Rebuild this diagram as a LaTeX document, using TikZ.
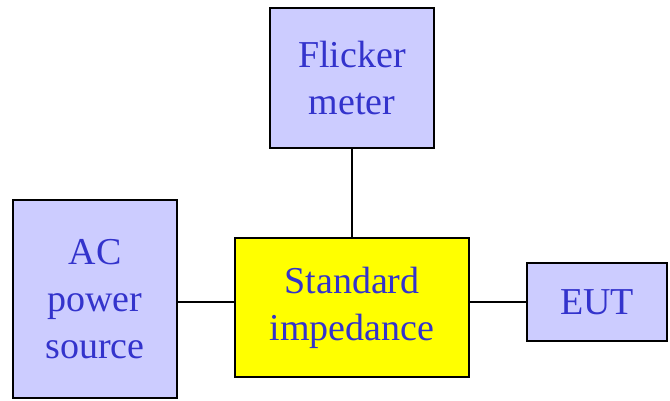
\documentclass[tikz,border=0pt]{standalone}
\usepackage{fontspec}
\setmainfont{Liberation Serif}
\definecolor{boxblue}{HTML}{CCCCFF}
\definecolor{txtblue}{HTML}{3333CC}
\definecolor{boxyellow}{HTML}{FFFF00}
\begin{document}
\begin{tikzpicture}[x=1pt,y=1pt,
  blk/.style={draw=black, line width=1.3pt, inner sep=0pt, align=center,
    text=txtblue, font=\fontsize{38}{47}\selectfont},
  lav/.style={blk, fill=boxblue},
  yel/.style={blk, fill=boxyellow},
  wire/.style={draw=black, line width=1.3pt}]
\useasboundingbox (0,0) rectangle (670,400);
\node[lav, minimum width=164pt, minimum height=140pt] (fm) at (352,322) {Flicker\\meter};
\node[lav, minimum width=164pt, minimum height=198pt] (ac) at (95,101) {AC\\power\\source};
\node[yel, minimum width=234pt, minimum height=139pt] (imp) at (352,92.5) {Standard\\impedance};
\node[lav, minimum width=140pt, minimum height=78pt] (eut) at (597,98) {EUT};
\draw[wire] (fm.south) -- (imp.north);
\draw[wire] (ac.east |- eut.west) -- (imp.west |- eut.west);
\draw[wire] (imp.east |- eut.west) -- (eut.west);
\end{tikzpicture}
\end{document}
